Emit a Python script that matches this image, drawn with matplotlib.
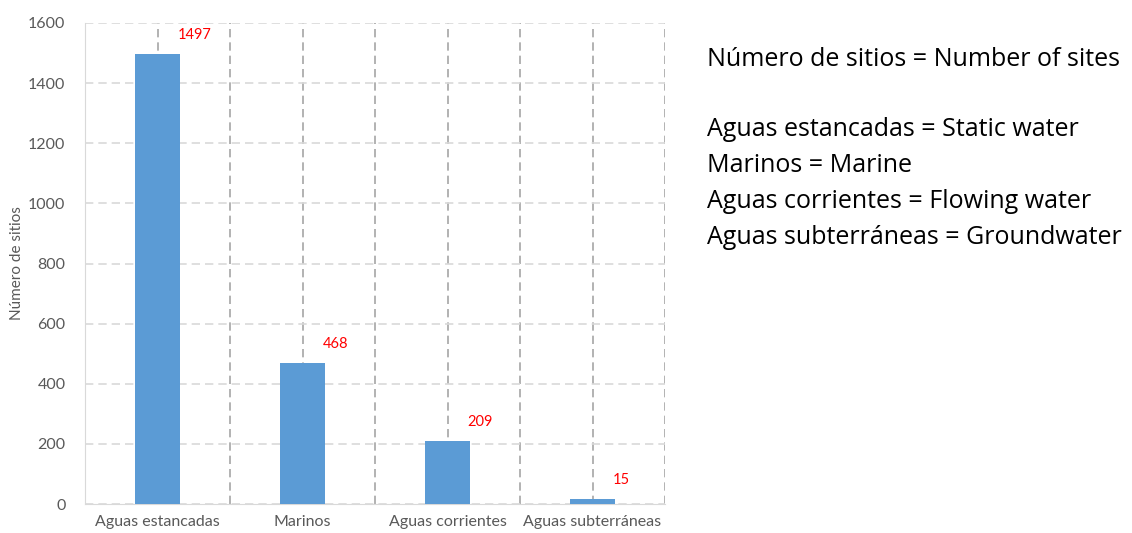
import matplotlib as mpl

mpl.use('Agg')
import matplotlib.pyplot as plt
import numpy as np

categories = ["Aguas estancadas", "Marinos", "Aguas corrientes", "Aguas subterráneas"]
values = [1497, 468, 209, 15]
yticks = [0, 200, 400, 600, 800, 1000, 1200, 1400, 1600]
notes = ["Número de sitios = Number of sites", "",
         "Aguas estancadas = Static water",
         "Marinos = Marine",
         "Aguas corrientes = Flowing water",
         "Aguas subterráneas = Groundwater"]

plt.rcParams['font.family'] = ['Lato', 'DejaVu Sans']

fig = plt.figure(figsize=(11.32, 5.33), dpi=100)
ax = fig.add_axes([85 / 1132, 1 - 504 / 533, 580 / 1132, 481 / 533])

x = np.arange(len(categories))
ax.bar(x, values, width=0.31, color="#5B9BD5", zorder=3)
for xi, v in zip(x, values):
    ax.text(xi + 0.14, v + 40, str(v), color="red", fontsize=10.5, va="bottom", ha="left")

ax.set_xlim(-0.5, len(categories) - 0.5)
ax.set_ylim(0, 1600)
ax.set_yticks(yticks)
ax.set_xticks(x)
ax.set_xticklabels(categories)
ax.set_xticks(np.arange(len(categories) + 1) - 0.5, minor=True)

ax.grid(axis="y", color="#d9d9d9", ls=(0, (5, 3)), lw=1.2, zorder=0)
ax.grid(axis="x", which="both", color="#a6a6a6", ls=(0, (5, 3)), lw=1.2, zorder=0)
ax.tick_params(length=0, which="both", colors="#595959", labelsize=11.5)
ax.tick_params(axis="x", pad=8)
ax.tick_params(axis="y", pad=14)
for s in ["top", "right"]:
    ax.spines[s].set_visible(False)
ax.spines["left"].set_color("#d9d9d9")
ax.spines["bottom"].set_color("#d9d9d9")
ax.set_ylabel("Número de sitios", color="#595959", fontsize=11, labelpad=3)

ys = [59, 95, 130, 166, 202, 238]
for t, yp in zip(notes, ys):
    if t:
        fig.text(707 / 1132, 1 - yp / 533, t, fontsize=18, va="center", ha="left",
                 color="black", family=["Open Sans", "DejaVu Sans"])

fig.savefig("out.png", dpi=100)
